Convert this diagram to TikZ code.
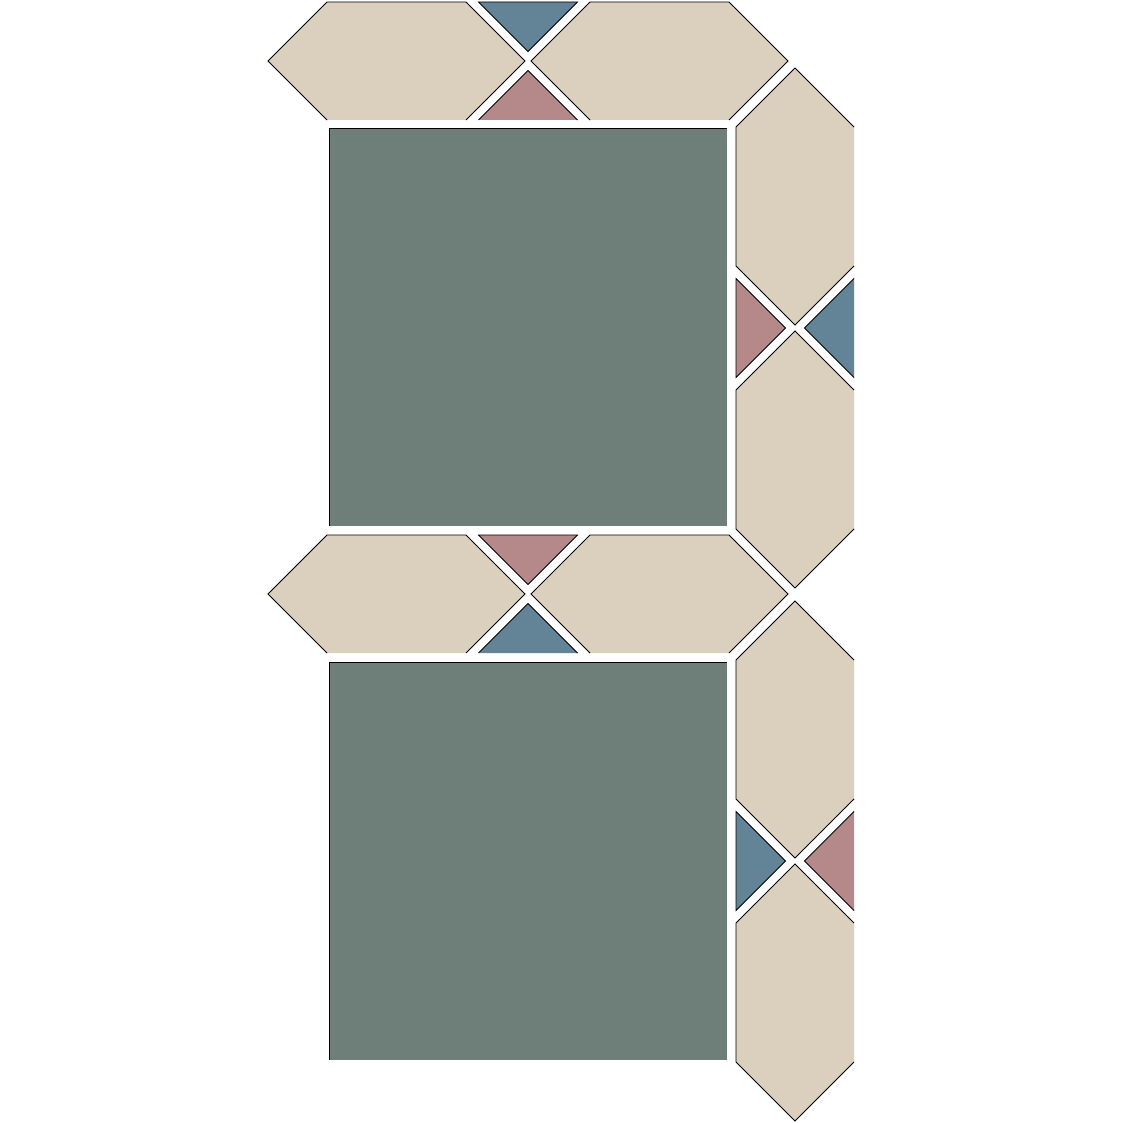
\documentclass[tikz,border=0pt]{standalone}
\definecolor{tanc}{RGB}{219,208,190}
\definecolor{greenc}{RGB}{109,127,120}
\definecolor{bluec}{RGB}{99,131,150}
\definecolor{pinkc}{RGB}{181,137,137}
\tikzset{edge/.style={draw=black,line width=0.8pt,line join=miter,line cap=butt}}
% horizontal elongated hexagon centred at (#1,#2)
\newcommand\Hhex[2]{%
  \fill[tanc] (#1-128.5,#2) -- (#1-69.5,#2-59) -- (#1+69.5,#2-59) -- (#1+128.5,#2) -- (#1+69.5,#2+59) -- (#1-69.5,#2+59) -- cycle;
  \path[edge] (#1+69.5,#2+59) -- (#1+128.5,#2) -- (#1+69.5,#2-59) -- (#1-69.5,#2-59) -- (#1-128.5,#2) -- (#1-69.5,#2+59);}
% vertical elongated hexagon centred at (#1,#2)
\newcommand\Vhex[2]{%
  \fill[tanc] (#1,#2-128.5) -- (#1+59,#2-69.5) -- (#1+59,#2+69.5) -- (#1,#2+128.5) -- (#1-59,#2+69.5) -- (#1-59,#2-69.5) -- cycle;
  \path[edge] (#1+59,#2+69.5) -- (#1,#2+128.5) -- (#1-59,#2+69.5) -- (#1-59,#2-69.5) -- (#1,#2-128.5) -- (#1+59,#2-69.5);}
% triangle, base on top at y=#2, centred on x=#1, colour #3
\newcommand\TriDown[3]{%
  \fill[#3] (#1-49.5,#2) -- (#1+49.5,#2) -- (#1,#2+49.5) -- cycle;
  \path[edge] (#1-49.5,#2) -- (#1+49.5,#2) -- (#1,#2+49.5) -- cycle;}
% triangle, base at bottom y=#2
\newcommand\TriUp[3]{%
  \fill[#3] (#1-49.5,#2) -- (#1+49.5,#2) -- (#1,#2-49.5) -- cycle;
  \path[edge] (#1-49.5,#2) -- (#1,#2-49.5) -- (#1+49.5,#2);}
% triangle, base on left at x=#1, centred on y=#2
\newcommand\TriRight[3]{%
  \fill[#3] (#1,#2-49.5) -- (#1,#2+49.5) -- (#1+49.5,#2) -- cycle;
  \path[edge] (#1,#2-49.5) -- (#1,#2+49.5) -- (#1+49.5,#2) -- cycle;}
% triangle, base on right at x=#1
\newcommand\TriLeft[3]{%
  \fill[#3] (#1,#2-49.5) -- (#1,#2+49.5) -- (#1-49.5,#2) -- cycle;
  \path[edge] (#1,#2-49.5) -- (#1-49.5,#2) -- (#1,#2+49.5);}
\newcommand\Sq[2]{%
  \fill[greenc] (#1,#2) rectangle (#1+398,#2+398);
  \path[edge] (#1,#2+398) -- (#1,#2) -- (#1+398,#2);}
\begin{document}
\begin{tikzpicture}[x=1pt,y=-1pt]
\useasboundingbox[fill=white] (0,0) rectangle (1123,1123);
% top row
\Hhex{396.5}{61}
\Hhex{659.5}{61}
\TriDown{528}{2}{bluec}
\TriUp{528}{120}{pinkc}
% square 1
\Sq{329}{128}
% right column, upper
\Vhex{795}{196.5}
\Vhex{795}{459.5}
\TriRight{736}{328}{pinkc}
\TriLeft{854}{328}{bluec}
% middle row
\Hhex{396.5}{594}
\Hhex{659.5}{594}
\TriDown{528}{535}{pinkc}
\TriUp{528}{653}{bluec}
% square 2
\Sq{329}{662}
% right column, lower
\Vhex{795}{729.5}
\Vhex{795}{992.5}
\TriRight{736}{861}{bluec}
\TriLeft{854}{861}{pinkc}
\end{tikzpicture}
\end{document}
